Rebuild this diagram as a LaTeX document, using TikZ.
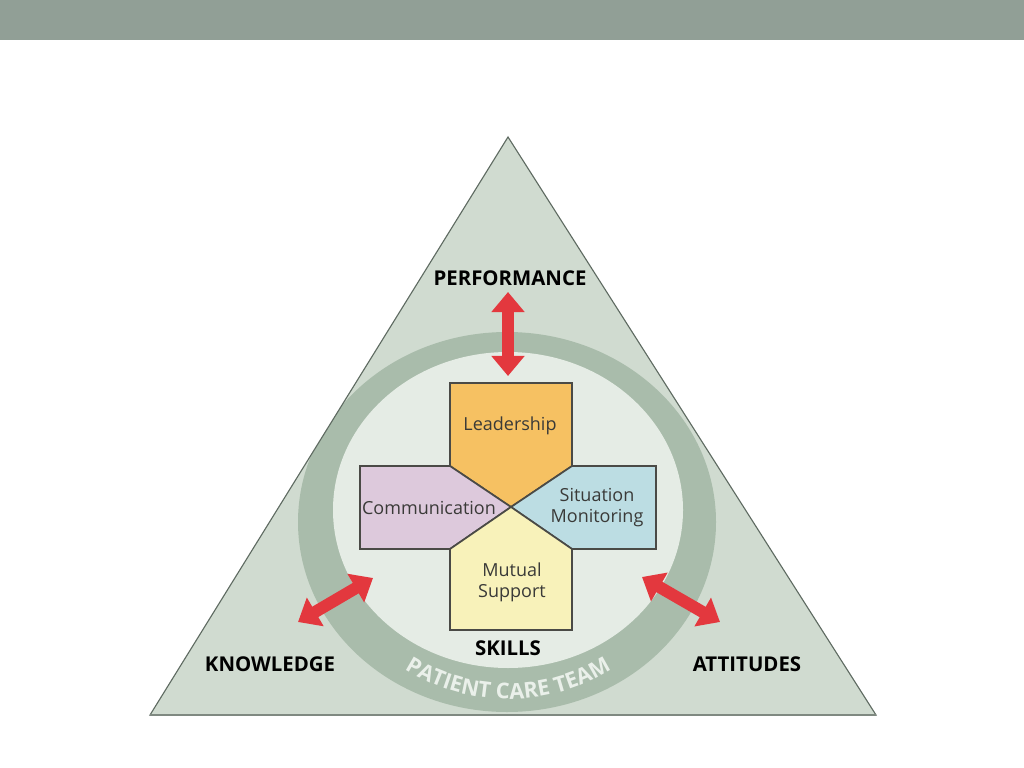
\documentclass[tikz,border=0pt]{standalone}
\usepackage{fontspec}
\setmainfont{Open Sans}
\usetikzlibrary{arrows.meta, positioning, decorations.text}

\definecolor{topbar}{HTML}{919F96}
\definecolor{trifill}{HTML}{D0DBD0}
\definecolor{triline}{HTML}{5F6B62}
\definecolor{band}{HTML}{A9BCAB}
\definecolor{disc}{HTML}{E5ECE5}
\definecolor{arrowred}{HTML}{E3383E}
\definecolor{boxline}{HTML}{4A4A46}
\definecolor{labeltext}{HTML}{3A3A38}
\definecolor{leadfill}{HTML}{F6C162}
\definecolor{commfill}{HTML}{DDC9DC}
\definecolor{sitfill}{HTML}{BCDDE3}
\definecolor{mutfill}{HTML}{F8F2BA}
\definecolor{teamtext}{HTML}{EAF0EA}

\begin{document}
\begin{tikzpicture}[
    x=0.025cm, y=-0.025cm,
    skill/.style={font=\fontsize{14.5}{17}\selectfont\bfseries, text=black, inner sep=0pt},
    part/.style={draw=boxline, line width=1.2pt, line join=miter},
    partlabel/.style={font=\fontsize{12.8}{15}\selectfont, text=labeltext, align=center, inner sep=0pt},
    link/.style={{Triangle[length=0.5cm,width=0.8cm]}-{Triangle[length=0.5cm,width=0.8cm]}, line width=0.3cm, draw=arrowred}
]
    \useasboundingbox (0,0) rectangle (1024,768);

    % Title bar
    \fill[topbar] (0,0) rectangle (1024,40);

    % Triangle
    \coordinate (apex) at (508,137);
    \coordinate (baseL) at (150,715);
    \coordinate (baseR) at (876,715);
    \fill[trifill] (apex) -- (baseR) -- (baseL) -- cycle;

    % Ring and inner disc
    \begin{scope}
        \clip (apex) -- (baseR) -- (baseL) -- cycle;
        \fill[band] (507,522) ellipse [x radius=209, y radius=190];
        \fill[disc] (508,510) ellipse [x radius=175, y radius=158];
    \end{scope}
    \draw[triline, line width=0.8pt, line join=miter] (apex) -- (baseR) -- (baseL) -- cycle;
    \draw[triline!80, line width=2pt] (baseL) -- (baseR);

    \path[decorate, decoration={text along path, text align=center,
        text={|\fontsize{15.5}{18}\selectfont\bfseries\color{teamtext}|PATIENT CARE TEAM}}]
        (340,602) arc[start angle=150, end angle=30, radius=194];

    % Cross
    \coordinate (ctr) at (511,507);
    \filldraw[part, fill=leadfill] (450,383) -- (572,383) -- (572,466) -- (ctr) -- (450,466) -- cycle;
    \filldraw[part, fill=commfill] (360,466) -- (450,466) -- (ctr) -- (450,549) -- (360,549) -- cycle;
    \filldraw[part, fill=sitfill] (572,466) -- (656,466) -- (656,549) -- (572,549) -- (ctr) -- cycle;
    \filldraw[part, fill=mutfill] (450,549) -- (ctr) -- (572,549) -- (572,630) -- (450,630) -- cycle;

    \node[partlabel, anchor=base] (lead) at (510,430) {Leadership};
    \node[partlabel, anchor=base] (comm) at (429,514) {Communication};
    \node[partlabel] (sit) at (597,508) {Situation\\Monitoring};
    \node[partlabel] (mut) at (512,582) {Mutual\\Support};

    % Outer labels
    \node[skill] (perf) at (510,278) {PERFORMANCE};
    \node[skill] (know) at (270,664) {KNOWLEDGE};
    \node[skill] (att) at (747,664) {ATTITUDES};
    \node[skill] (skills) at (508,648) {SKILLS};

    % Arrows
    \coordinate (perfA) at (508,292);
    \coordinate (perfB) at (508,376);
    \coordinate (knowA) at (298,622);
    \coordinate (knowB) at (373,578);
    \coordinate (attA) at (642,577);
    \coordinate (attB) at (720,622);
    \draw[link] (perfA) -- (perfB);
    \draw[link] (knowA) -- (knowB);
    \draw[link] (attA) -- (attB);
\end{tikzpicture}
\end{document}
